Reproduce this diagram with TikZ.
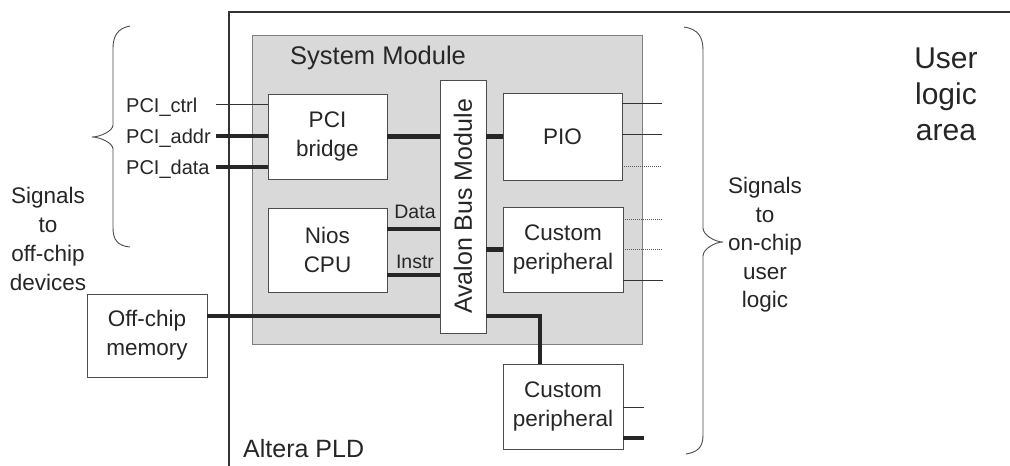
\documentclass[tikz,border=0pt]{standalone}
\usepackage{fontspec}
\setmainfont{Liberation Sans}
\usetikzlibrary{calc}
\newcommand\myfs[2]{\fontsize{#1}{#2}\selectfont}
\begin{document}
\begin{tikzpicture}[x=1pt,y=-1pt,
  box/.style={draw=black!70, line width=0.9pt, fill=white, align=center, inner sep=0pt, font=\myfs{22.5}{29}, text=black!85},
  lbl/.style={inner sep=0pt, text=black!85},
  bus/.style={line width=4.5pt, draw=black!85},
  wire/.style={line width=0.9pt, draw=black!80},
  dwire/.style={line width=1pt, draw=black!65, densely dotted},
  brace/.style={line width=0.9pt, draw=black!70},
  frame/.style={line width=1.2pt, draw=black!80}]
\fill[white] (0,0) rectangle (1010,466);
\useasboundingbox (0,0) rectangle (1010,466);

% Altera PLD frame
\coordinate (pldtr) at (1010,12);
\coordinate (pldtl) at (229,12);
\coordinate (pldbl) at (229,466);
\draw[frame] (pldtr) -- (pldtl) -- (pldbl);
\node[lbl, anchor=base west, font=\myfs{25}{30}] (pldlbl) at (243,457) {Altera PLD};

% System module
\node[draw=black!50, line width=0.8pt, fill=black!15, minimum width=390pt, minimum height=309pt, inner sep=0pt] (sys) at (447,189.5) {};
\node[lbl, anchor=base west, font=\myfs{25.5}{30}] (systitle) at (290,64) {System Module};

% boxes
\node[box, minimum width=119pt, minimum height=85pt] (pci) at (327.5,136.5) {PCI\\bridge};
\node[box, minimum width=119pt, minimum height=84pt] (nios) at (327.5,250) {Nios\\CPU};
\node[box, minimum width=46pt, minimum height=253pt, font=\myfs{25}{30}] (avalon) at (463,206.5) {\rotatebox{90}{Avalon Bus Module}};
\node[box, minimum width=119pt, minimum height=87pt] (pio) at (562.5,136.5) {PIO};
\node[box, minimum width=120pt, minimum height=85pt] (cust1) at (563,249.5) {Custom\\peripheral};
\node[box, minimum width=120pt, minimum height=85pt] (cust2) at (563,406.5) {Custom\\peripheral};
\node[box, minimum width=120pt, minimum height=83pt] (mem) at (147,335.5) {Off-chip\\memory};

% PCI signals
\node[lbl, anchor=base west, font=\myfs{20}{24}] (lctrl) at (126,112) {PCI\_ctrl};
\node[lbl, anchor=base west, font=\myfs{20}{24}] (laddr) at (126,143) {PCI\_addr};
\node[lbl, anchor=base west, font=\myfs{20}{24}] (ldata) at (126,174) {PCI\_data};
\coordinate (c1) at (216,104);
\coordinate (c2) at (216,136);
\coordinate (c3) at (216,167);
\draw[wire] (c1) -- (c1 -| pci.west);
\draw[bus] (c2) -- (c2 -| pci.west);
\draw[bus] (c3) -- (c3 -| pci.west);

% buses to Avalon
\draw[bus] (pci.east) -- (pci.east -| avalon.west);
\draw[bus] (pio.west -| avalon.east) -- (pio.west);
\coordinate (d1) at ([yshift=21pt]nios.east);
\coordinate (i1) at ([yshift=-25pt]nios.east);
\draw[bus] (d1) -- (d1 -| avalon.west);
\draw[bus] (i1) -- (i1 -| avalon.west);
\node[lbl, anchor=base, font=\myfs{19.5}{24}] (ldat) at (415,218) {Data};
\node[lbl, anchor=base, font=\myfs{19.5}{24}] (linstr) at (415,268) {Instr};
\draw[bus] (cust1.west -| avalon.east) -- (cust1.west);

% off-chip memory bus
\coordinate (m1) at ([yshift=19.5pt]mem.east);
\coordinate (m2) at ([xshift=-23pt]cust2.north);
\draw[bus] (m1) -- (m1 -| avalon.west);
\draw[bus] (m1 -| avalon.east) -| (m2);

% outputs
\coordinate (po1) at (662,103);
\coordinate (po2) at (662,134);
\coordinate (po3) at (662,166);
\draw[wire] (po1 -| pio.east) -- (po1);
\draw[wire] (po2 -| pio.east) -- (po2);
\draw[dwire] (po3 -| pio.east) -- (po3);
\coordinate (co1) at (662,219);
\coordinate (co2) at (662,249);
\coordinate (co3) at (663,280);
\draw[dwire] (co1 -| cust1.east) -- (co1);
\draw[dwire] (co2 -| cust1.east) -- (co2);
\draw[wire] (co3 -| cust1.east) -- (co3);
\coordinate (ko1) at (644,407);
\coordinate (ko2) at (644,438);
\draw[wire] (ko1 -| cust2.east) -- (ko1);
\draw[bus] (ko2 -| cust2.east) -- (ko2);

% braces
\draw[brace] (130,26) .. controls (118,28) and (113,36) .. (113,48) -- (113,125)
  .. controls (113,131) and (100,137) .. (92,137)
  .. controls (100,137) and (113,143) .. (113,149) -- (113,228)
  .. controls (113,240) and (118,246) .. (130,247);
\draw[brace] (684,27) .. controls (698,29) and (703,37) .. (703,50) -- (703,228)
  .. controls (703,235) and (715,242) .. (723,242)
  .. controls (715,242) and (703,249) .. (703,256) -- (703,435)
  .. controls (703,447) and (698,452) .. (686,454);

% side texts
\node[lbl, align=center, font=\myfs{22.5}{29}] (offsig) at (48,239) {Signals\\to\\off-chip\\devices};
\node[lbl, align=center, font=\myfs{22.5}{28.5}] (onsig) at (765,245) {Signals\\to\\on-chip\\user\\logic};
\node[lbl, align=center, font=\myfs{30}{36}] (ularea) at (946,94) {User\\logic\\area};
\end{tikzpicture}
\end{document}
